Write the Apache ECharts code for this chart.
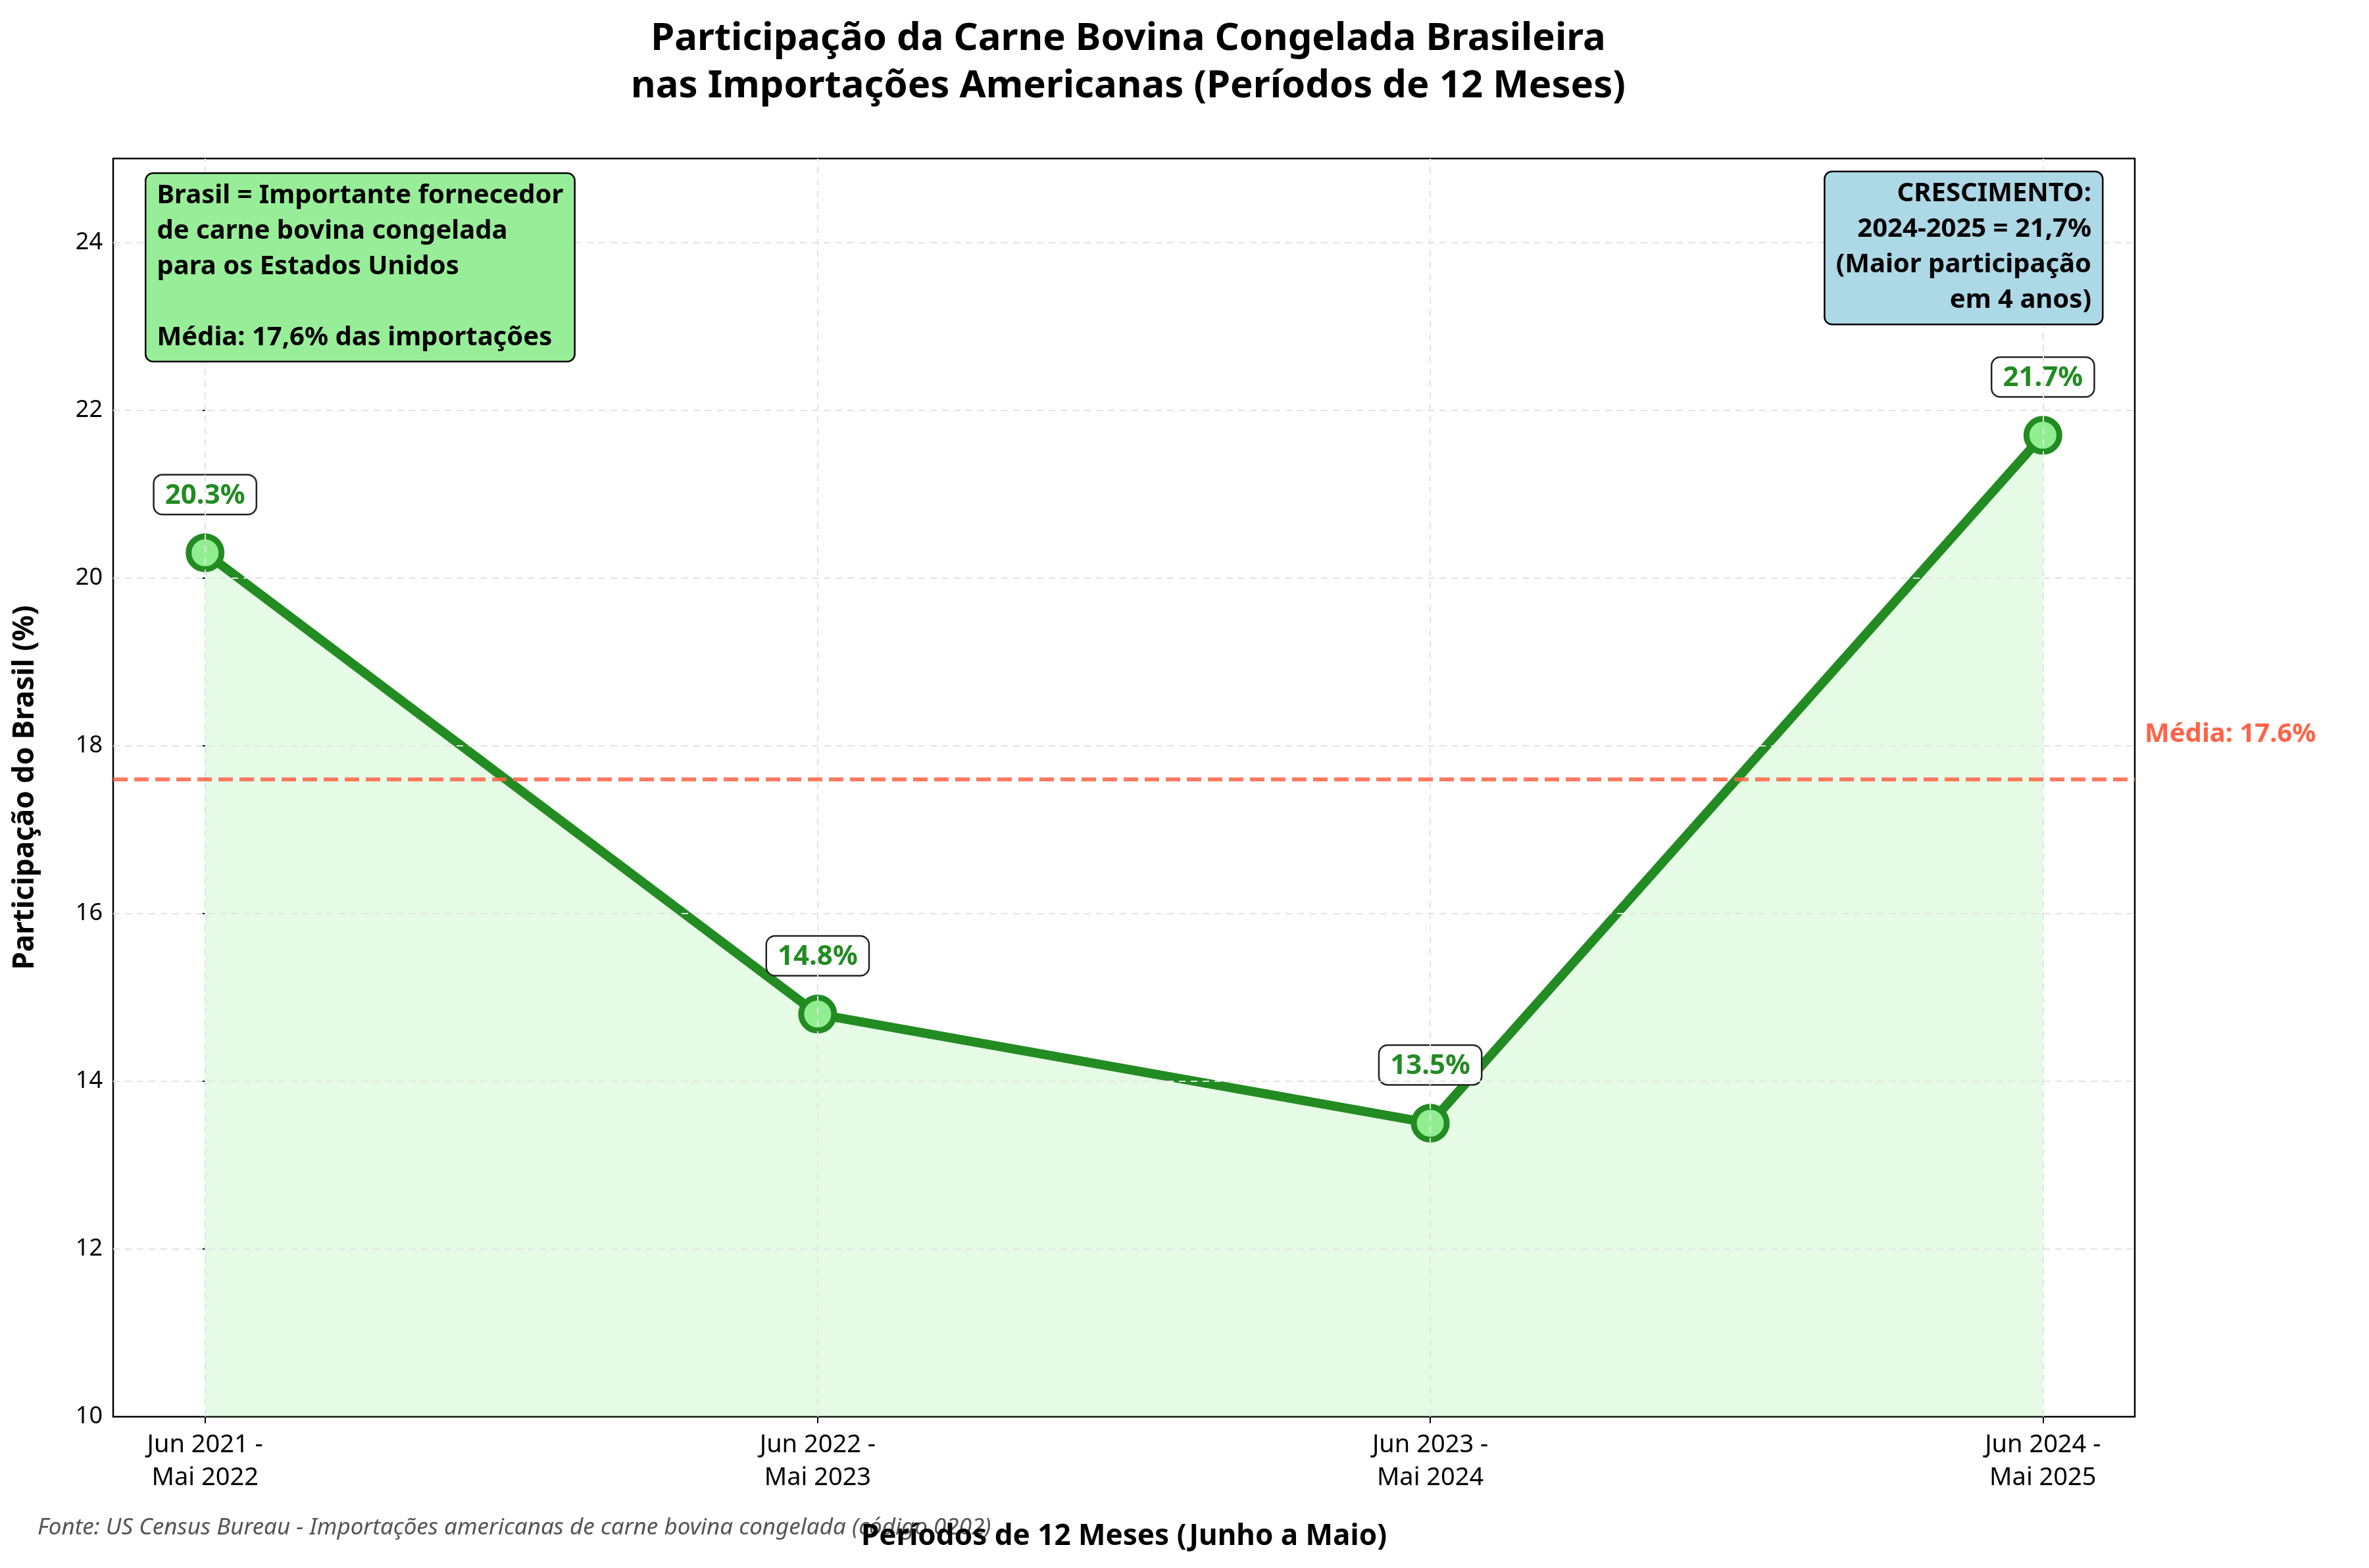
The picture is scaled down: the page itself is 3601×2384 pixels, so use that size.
<!DOCTYPE html>
<html><head><meta charset="utf-8">
<script src="https://cdn.jsdelivr.net/npm/echarts@6/dist/echarts.min.js"></script>
<style>html,body{margin:0;padding:0;background:#fff}#c{width:3601px;height:2384px}</style>
</head><body><div id="c"></div>
<script>
const categories = ['Jun 2021 -\nMai 2022','Jun 2022 -\nMai 2023','Jun 2023 -\nMai 2024','Jun 2024 -\nMai 2025'];
const shares = [20.3, 14.8, 13.5, 21.7];
const average = 17.6;
const yTicks = [10,12,14,16,18,20,22,24];

const F = 'Noto Sans';
const chart = echarts.init(document.getElementById('c'));
chart.setOption({
  backgroundColor:'#fff',
  animation:false,
  title:{
    text:'Participação da Carne Bovina Congelada Brasileira\nnas Importações Americanas (Períodos de 12 Meses)',
    left:1710, top:18, textAlign:'center',
    textStyle:{fontFamily:F,fontSize:58,fontWeight:'bold',color:'#000',lineHeight:72}
  },
  grid:{left:172,right:356,top:241,bottom:230,show:true,borderColor:'#000',borderWidth:2.5,backgroundColor:'transparent'},
  xAxis:{
    type:'value',min:-0.15,max:3.15,interval:1,
    axisLine:{show:false},
    axisLabel:{fontFamily:F,fontSize:38,color:'#000',margin:18,lineHeight:50,
      customValues:[0,1,2,3],
      formatter:v=>categories[Math.round(v)]},
    axisTick:{show:true,customValues:[0,1,2,3],length:10,lineStyle:{color:'#000',width:2}},
    splitLine:{show:false},
    name:'Períodos de 12 Meses (Junho a Maio)',nameLocation:'middle',nameGap:160,
    nameTextStyle:{fontFamily:F,fontSize:44,fontWeight:'bold',color:'#000'}
  },
  yAxis:{
    type:'value',min:10,max:25,interval:2,
    axisLine:{show:false},
    axisTick:{show:true,length:10,customValues:yTicks,lineStyle:{color:'#000',width:2}},
    axisLabel:{fontFamily:F,fontSize:36,color:'#000',margin:16,customValues:yTicks},
    splitLine:{show:false},
    name:'Participação do Brasil (%)',nameLocation:'middle',nameGap:112,
    nameTextStyle:{fontFamily:F,fontSize:44,fontWeight:'bold',color:'#000'}
  },
  series:[
    {type:'line',data:[],silent:true,
     markLine:{symbol:'none',silent:true,label:{show:false},
       lineStyle:{type:[10,8],color:'#e3e3e3',width:2},
       data:[...[0,1,2,3].map(v=>({xAxis:v})),...yTicks.slice(1).map(v=>({yAxis:v}))]}},
    {type:'line',data:shares.map((v,i)=>[i,v]),
     lineStyle:{color:'#228B22',width:14},
     areaStyle:{color:'rgba(144,238,144,0.33)'},
     symbol:'circle',symbolSize:50,
     itemStyle:{color:'#90EE90',borderColor:'#228B22',borderWidth:9},
     label:{show:true,position:'top',distance:30,formatter:p=>p.value[1].toFixed(1)+'%',
       fontFamily:F,fontSize:42,fontWeight:'bold',color:'#228B22',
       backgroundColor:'#fff',borderColor:'#222',borderWidth:2.5,borderRadius:12,padding:[10,16,6,16]},
     markLine:{symbol:'none',silent:true,
       lineStyle:{type:[22,10],color:'rgba(255,99,71,0.85)',width:6},
       label:{show:true,position:'end',formatter:'Média: '+average.toFixed(1)+'%',
         fontFamily:F,fontSize:40,fontWeight:'bold',color:'#FF6347',offset:[10,-68],align:'left'},
       data:[{yAxis:average}]}
    }
  ],
  graphic:[
    {type:'text',left:220,top:262,z:100,
     style:{text:'Brasil = Importante fornecedor\nde carne bovina congelada\npara os Estados Unidos\n\nMédia: 17,6% das importações',
       font:'bold 40px "Noto Sans"',fill:'#000',lineHeight:54,
       backgroundColor:'#98EE98',borderColor:'#000',borderWidth:2.5,borderRadius:10,padding:[6,16,8,16]}},
    {type:'text',x:3195,y:262,z:100,
     style:{text:'CRESCIMENTO:\n2024-2025 = 21,7%\n(Maior participação\nem 4 anos)',align:'right',verticalAlign:'top',
       font:'bold 40px "Noto Sans"',fill:'#000',lineHeight:54,
       backgroundColor:'#ADD8E6',borderColor:'#000',borderWidth:2.5,borderRadius:10,padding:[6,16,8,16]}},
    {type:'text',left:57,top:2306,
     style:{text:'Fonte: US Census Bureau - Importações americanas de carne bovina congelada (código 0202)',
       font:'italic 35px "Noto Sans"',fill:'#555'}}
  ]
});
</script></body></html>
